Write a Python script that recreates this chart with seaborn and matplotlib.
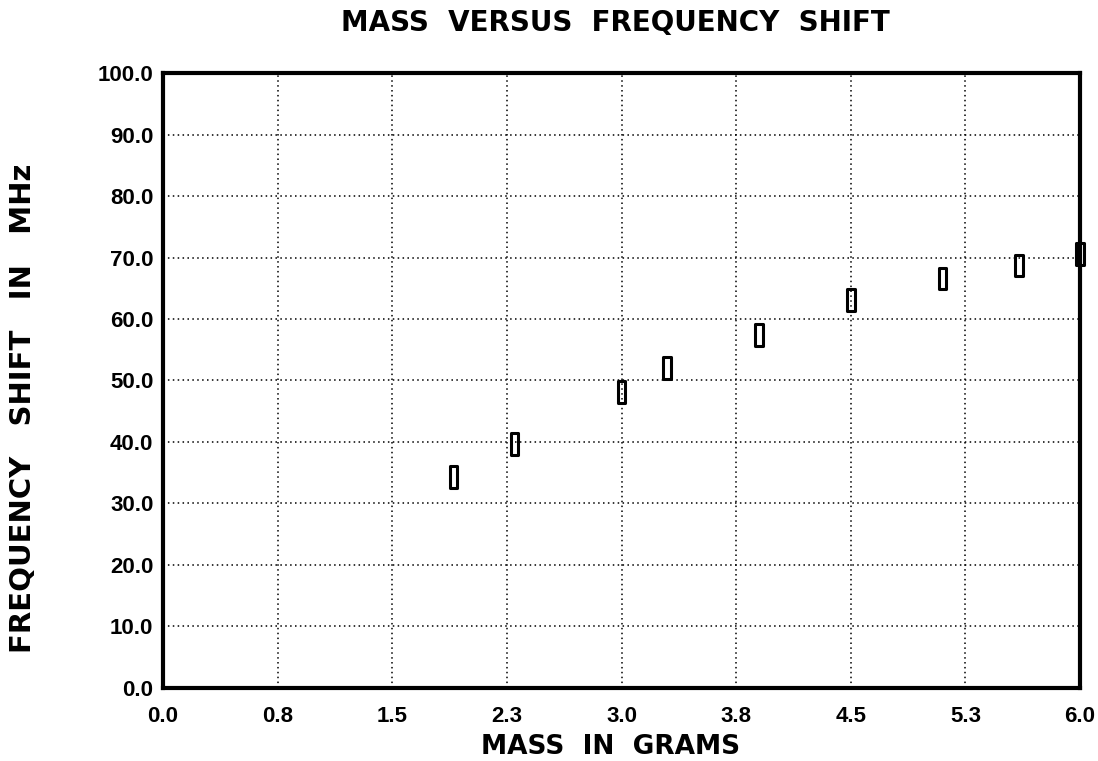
import numpy as np
import pandas as pd
import matplotlib
matplotlib.use("Agg")
import matplotlib.pyplot as plt
from matplotlib.path import Path
import seaborn as sns

# data
mass = [1.90, 2.30, 3.00, 3.30, 3.90, 4.50, 5.10, 5.60, 6.00]
shift = [34.3, 39.7, 48.1, 52.0, 57.4, 63.1, 66.6, 68.7, 70.6]
x_ticks = [0.0, 0.75, 1.5, 2.25, 3.0, 3.75, 4.5, 5.25, 6.0]
x_tick_labels = ["0.0", "0.8", "1.5", "2.3", "3.0", "3.8", "4.5", "5.3", "6.0"]
y_ticks = [0, 10, 20, 30, 40, 50, 60, 70, 80, 90, 100]
y_tick_labels = ["0.0", "10.0", "20.0", "30.0", "40.0", "50.0", "60.0", "70.0", "80.0", "90.0", "100.0"]

df = pd.DataFrame({"mass": mass, "shift": shift})

sns.set_style("white")
plt.rcParams["font.family"] = ["DejaVu Sans"]
plt.rcParams["text.color"] = "black"

tick_font = ["Liberation Sans", "DejaVu Sans"]

fig = plt.figure(figsize=(10.98, 7.61), dpi=100)
ax = fig.add_axes([0.1485, 0.096, 0.9836 - 0.1485, 0.904 - 0.096])

# tall hollow box marker
box = Path([(-0.36, -1), (0.36, -1), (0.36, 1), (-0.36, 1), (-0.36, -1)],
           [Path.MOVETO, Path.LINETO, Path.LINETO, Path.LINETO, Path.CLOSEPOLY])
sns.scatterplot(data=df, x="mass", y="shift", marker=box, s=240,
                facecolor="none", edgecolor="black", linewidth=2.2, ax=ax, zorder=5,
                clip_on=False)

ax.set_xlim(0, 6)
ax.set_ylim(0, 100)
ax.set_xticks(x_ticks)
ax.set_xticklabels(x_tick_labels)
ax.set_yticks(y_ticks)
ax.set_yticklabels(y_tick_labels)
ax.grid(True, color="black", linestyle=(0, (1, 2.2)), linewidth=1.1)
for s in ax.spines.values():
    s.set_linewidth(3)
    s.set_color("black")
ax.tick_params(axis="both", direction="out", length=4, width=2, color="black",
               labelcolor="black")
ax.tick_params(axis="x", pad=9)
ax.tick_params(axis="y", pad=3)
for lab in ax.get_xticklabels() + ax.get_yticklabels():
    lab.set_family(tick_font)
    lab.set_fontweight("bold")
    lab.set_fontsize(16)
ax.set_xlabel("")
ax.set_ylabel("")

fig.text(0.560, 0.970, "MASS  VERSUS  FREQUENCY  SHIFT", ha="center", va="center",
         fontsize=20, fontweight="bold")
fig.text(0.556, 0.019, "MASS  IN  GRAMS", ha="center", va="center",
         fontsize=19, fontweight="bold")
fig.text(0.021, 0.464, "FREQUENCY   SHIFT   IN   MHz", ha="center", va="center",
         rotation=90, fontsize=21, fontweight="bold")

fig.savefig("out.png", dpi=100)
